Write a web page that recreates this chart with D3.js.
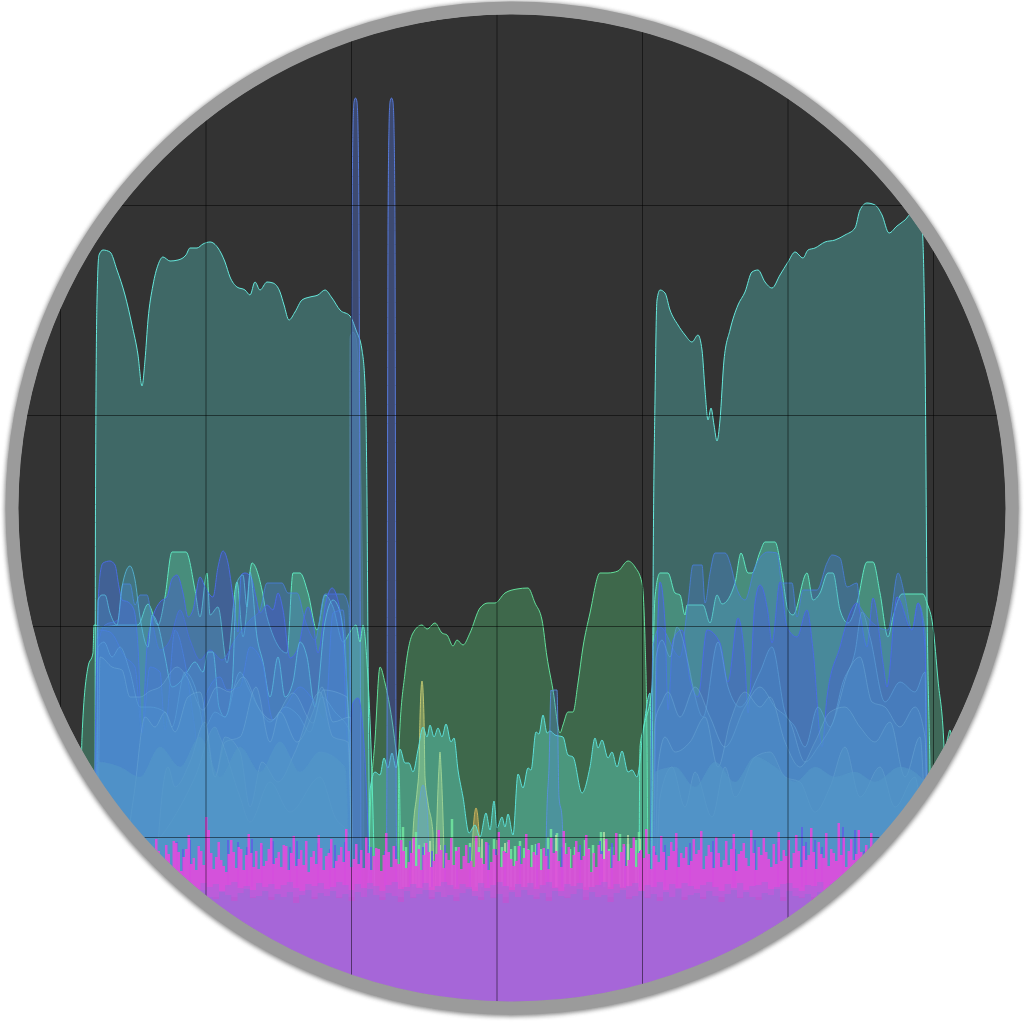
<!DOCTYPE html>
<html><head><meta charset="utf-8"><style>html,body{margin:0;background:#fff}svg{display:block}</style>
<script src="https://cdn.jsdelivr.net/npm/d3@7"></script></head><body><div id="c"></div><script>
const xTicks=[60,205.5,351,496.5,642,787.5,933];
const yTicks=[-210,0,211,422,632,843];
const tealLeft=[[95,-60],[95.5,337],[97,537],[99,582],[103,587],[110,585],[117,567],[125,542],[132,512],[138,482],[142,451],[145,477],[148,517],[153,552],[158,572],[163,580],[170,576],[178,577],[186,582],[190,589],[197,589],[203,593],[210,595],[218,589],[225,575],[230,560],[237,550],[245,547],[250,542],[255,555],[260,547],[267,555],[273,554],[280,545],[284,532],[289,517],[295,525],[302,537],[310,540],[318,542],[325,547],[332,539],[340,527],[350,521],[356,507],[362,487],[365,452],[367,337],[368,187],[370,-60]];
const tealRight=[[652,-60],[653,237],[655,437],[657,537],[660,547],[665,544],[670,527],[678,512],[685,502],[692,495],[698,502],[702,487],[705,447],[708,417],[711,429],[714,412],[717,396],[720,417],[724,477],[730,507],[738,532],[745,545],[752,565],[758,567],[765,555],[772,549],[780,562],[788,575],[795,585],[803,579],[808,587],[815,589],[825,595],[835,597],[845,602],[855,609],[860,627],[867,634],[875,632],[882,622],[889,604],[897,611],[905,617],[912,624],[922,609],[925,487],[927,237],[930,67],[932,-60]];
const greenMount=[[398,-60],[399,90],[405,164],[413,204],[422,212],[427,208],[435,214],[442,204],[447,202],[453,191],[457,197],[463,192],[470,204],[480,229],[488,234],[495,234],[505,244],[517,248],[528,249],[535,234],[542,217],[547,180],[553,147],[560,104],[563,112],[568,125],[573,125],[578,154],[583,190],[590,224],[600,264],[608,264],[618,266],[628,276],[635,270],[642,254],[645,197],[647,97],[648,-60]];
const greenPeak=[[368,-60],[370,20],[375,97],[380,170],[385,154],[392,117],[397,80],[399,67],[401,-60]];
const tealWiggle=[[368,-60],[370,47],[375,65],[380,62],[384,79],[388,69],[392,84],[396,69],[400,88],[405,74],[409,74],[413,65],[418,87],[423,110],[427,100],[430,112],[434,100],[438,109],[442,100],[446,113],[451,95],[454,99],[458,67],[463,40],[469,4],[475,12],[480,0],[486,24],[490,7],[494,36],[497,9],[502,20],[505,10],[508,23],[513,2],[518,63],[523,49],[528,69],[531,67],[536,105],[539,103],[543,122],[547,104],[550,106],[555,102],[563,100],[568,82],[573,80],[582,44],[590,70],[595,99],[598,89],[602,97],[608,79],[612,85],[617,70],[622,86],[628,65],[632,67],[637,60],[643,104],[650,144],[652,-60]];
const yellowA=[[412,-60],[413,4],[417,45],[419,70],[420,120],[422,156],[424,120],[425,60],[428,34],[433,4],[434,-60]];
const yellowB=[[435,-60],[437,20],[439,70],[440,85],[441,70],[443,20],[445,-60]];
const yellowC=[[470,-60],[473,5],[476,29],[479,5],[481,-60]];
const columnA=[[349,-60],[350,500],[353,505],[356,500],[361,360],[363,210],[364,-60]];
const spikeA=[[350,-60],[351,300],[352,600],[353,710],[354,735],[355.5,739],[357,735],[358,710],[359,600],[360,300],[361,-60]];
const spikeB=[[386,-60],[387,90],[388,600],[389,710],[390,735],[391.5,739],[393,735],[394,710],[395,600],[396,90],[397,-60]];
const spikeC=[[545,-60],[547,30],[549,70],[551,147],[552,146],[554,147],[557,147],[559,40],[562,20],[564,-60]];
const spikeD=[[416,-60],[419,30],[423,52],[427,30],[430,-60]];
const greenLeft=[[80,-60],[82,100],[88,170],[93,184],[94,212],[103,210],[120,212],[138,212],[148,233],[158,212],[165,240],[172,285],[186,285],[195,247],[200,220],[207,264],[210,222],[218,230],[227,174],[237,255],[243,200],[252,274],[262,247],[267,220],[287,184],[293,264],[300,264],[308,244],[317,207],[325,242],[333,230],[343,195],[350,205],[356,212],[360,195],[363,212],[367,174],[372,60],[375,-60]];
const stepLeft=[[97,-60],[99,197],[105,212],[118,217],[123,253],[130,253],[135,232],[140,242],[147,242],[152,217],[160,187],[170,197],[180,227],[190,197],[200,177],[210,187],[222,177],[235,197],[250,217],[260,227],[267,254],[282,254],[288,244],[297,244],[305,217],[315,197],[325,243],[343,243],[349,229],[351,-60]];
const blueLeft=[[94,-60],[95,67],[98,227],[100,262],[103,274],[110,276],[115,272],[119,250],[122,237],[128,235],[134,227],[138,190],[142,104],[147,190],[152,217],[160,235],[167,240],[172,258],[177,262],[183,244],[188,220],[193,227],[200,260],[205,250],[213,240],[218,270],[223,286],[228,274],[233,240],[238,205],[241,262],[245,264],[251,260],[256,240],[260,224],[267,232],[273,227],[278,244],[283,227],[290,179],[298,189],[308,230],[313,214],[318,184],[326,235],[332,249],[337,240],[343,197],[348,85],[353,134],[358,139],[363,107],[368,7],[370,-60]];
const blueLeft2=[[96,-60],[97,100],[99,207],[110,205],[125,180],[135,170],[142,104],[150,170],[160,165],[165,107],[175,207],[185,174],[195,107],[198,85],[203,127],[208,147],[220,160],[227,147],[240,150],[250,190],[262,175],[273,117],[285,130],[300,150],[313,137],[325,117],[333,224],[343,227],[348,90],[350,-60]];
const cyanLeft=[[97,-60],[98,237],[102,242],[105,242],[110,224],[117,212],[122,250],[130,271],[135,257],[140,220],[148,190],[152,222],[158,212],[165,180],[172,150],[180,155],[187,165],[195,175],[203,165],[208,185],[213,185],[219,130],[225,120],[232,150],[237,255],[243,262],[247,230],[250,265],[257,200],[263,175],[270,140],[278,180],[285,140],[293,155],[300,195],[307,180],[315,130],[325,215],[333,237],[340,225],[347,150],[350,60],[352,-60]];
const lightA=[[98,-60],[100,180],[112,170],[122,167],[130,140],[140,140],[150,146],[160,150],[177,170],[187,160],[203,127],[217,150],[230,145],[243,160],[260,127],[272,117],[293,144],[313,114],[323,147],[347,140],[352,-60]];
const lightB=[[96,-60],[98,190],[104,195],[112,180],[120,190],[130,165],[140,130],[150,130],[165,125],[172,110],[185,165],[195,150],[205,110],[215,125],[225,120],[240,165],[248,150],[258,130],[270,115],[285,130],[298,122],[310,105],[322,140],[335,125],[350,105],[352,-60]];
const paleA=[[125,-60],[128,-10],[135,50],[145,120],[155,110],[165,125],[175,105],[188,140],[200,145],[215,60],[225,95],[240,100],[256,150],[270,95],[280,125],[297,95],[313,125],[322,150],[333,115],[350,120],[353,-60]];
const paleB=[[155,-60],[160,20],[168,70],[175,50],[190,75],[205,115],[215,60],[225,100],[240,85],[250,30],[262,75],[278,55],[295,85],[320,145],[333,100],[348,95],[352,-60]];
const paleC=[[100,-60],[118,10],[122,-20],[150,-10],[180,30],[195,60],[215,110],[220,100],[240,40],[250,15],[270,55],[290,25],[320,60],[335,20],[350,0],[352,-60]];
const baseLeft=[[96,-60],[98,75],[120,70],[140,60],[160,90],[180,70],[200,100],[220,60],[240,90],[260,65],[280,95],[300,65],[320,85],[345,70],[350,-60]];
const greenRight=[[639,-60],[640,90],[643,107],[652,150],[655,240],[660,264],[668,264],[675,244],[680,242],[685,222],[687,232],[703,232],[710,214],[717,242],[722,233],[735,254],[741,284],[748,264],[752,264],[760,285],[765,295],[775,295],[782,264],[788,227],[793,222],[807,264],[813,237],[820,244],[828,264],[833,264],[840,227],[848,214],[857,234],[867,275],[873,275],[880,244],[888,200],[893,220],[902,243],[923,243],[927,234],[933,210],[938,157],[944,90],[948,-60]];
const stepRight=[[650,-60],[653,190],[660,210],[680,180],[688,234],[693,272],[702,272],[705,234],[710,264],[715,284],[725,284],[732,267],[735,254],[745,237],[755,270],[768,285],[777,284],[782,254],[792,254],[797,220],[803,247],[817,247],[827,274],[832,282],[840,279],[847,250],[857,254],[860,230],[888,207],[898,264],[905,240],[912,207],[918,234],[925,207],[928,-60]];
const blueRight=[[653,-60],[655,74],[660,255],[665,214],[668,127],[673,197],[682,207],[690,157],[698,140],[707,207],[720,194],[728,155],[738,219],[745,174],[748,124],[755,234],[760,252],[768,224],[772,194],[780,255],[787,210],[797,200],[807,227],[813,187],[822,90],[827,140],[840,190],[850,224],[857,234],[867,190],[873,239],[883,174],[887,150],[897,240],[912,207],[918,234],[925,190],[927,57],[930,-60]];
const lightR1=[[654,-60],[656,180],[662,197],[670,180],[677,210],[688,175],[693,150],[703,120],[718,195],[728,150],[740,130],[760,165],[772,190],[785,125],[795,110],[805,90],[818,130],[830,110],[843,155],[855,185],[862,225],[870,200],[885,135],[900,155],[915,145],[925,165],[927,-60]];
const lightR2=[[652,-60],[655,115],[662,135],[668,145],[680,120],[695,150],[710,120],[725,90],[745,130],[760,150],[775,130],[790,115],[805,75],[818,90],[835,120],[848,165],[860,180],[872,135],[885,130],[900,110],[915,130],[925,100],[928,-60]];
const paleR1=[[655,-60],[658,70],[665,100],[675,85],[690,95],[705,120],[718,70],[730,115],[745,145],[760,130],[770,140],[785,95],[800,70],[815,95],[830,125],[845,130],[860,110],[875,95],[890,115],[905,60],[920,100],[927,-60]];
const paleR2=[[656,-60],[660,40],[672,70],[685,30],[695,65],[712,20],[725,70],[735,40],[755,80],[770,85],[785,60],[800,55],[815,25],[830,50],[845,90],[860,40],[880,70],[895,30],[915,60],[926,-60]];
const baseRight=[[653,-60],[655,65],[675,70],[695,50],[715,75],[735,55],[755,80],[775,70],[795,55],[815,70],[835,60],[855,65],[875,55],[900,70],[925,55],[927,-60]];
const farRight=[[942,-60],[945,80],[948,100],[950,107],[953,92],[958,100],[962,-60]];
const magentaTop=[-16,-11,-22,-28,-2,-14,-25,-31,-8,-17,-29,-4,-6,-15,-34,-20,-12,2,-27,-21,
-33,-9,-14,-28,20,7,-16,-32,-20,-5,-23,-29,-35,-17,-3,-15,-31,-10,-12,-33,
-18,3,-16,-30,-14,-32,-6,-29,-24,-12,-1,-27,-21,-15,-30,-8,-9,-33,-16,1,
-29,-22,-13,-28,-4,-35,-20,-14,-27,2,-11,-33,-19,-16,-2,-31,-24,-18,-10,-25,
8,-14,-30,-22,-7,-27,-13,-31,0,-16,-33,-19,-11,-12,-34,-18,4,-15,-30,-9,
-22,-27,-3,-14,-31,-25,-16,0,-29,-12,-33,-18,-6,-15,-30,-24,-17,7,-13,-31,
-16,-23,-1,-28,-14,-10,-32,-19,-8,-26,-24,-30,1,-15,-21,-27,-5,-33,-25,-12,
-18,5,-30,-14,-16,-3,-22,-29,-24,-9,-27,-21,3,-13,-30,-15,-18,-6,-33,-11,
-19,-32,-1,-16,-14,-24,-30,6,-17,-10,-31,-18,-4,-15,-23,-19,2,-12,-35,-16,
-30,-8,-17,-22,-2,-14,-31,-18,4,-24,-15,-7,-29,-23,-11,0,-30,-16,-13,-21,
8,-17,-32,-9,-18,-25,1,-15,-33,-19,-5,-14,4,-30,-16,-21,-10,-28,-24,-2,
-17,-13,6,-32,-19,-8,-15,-31,0,-16,-30,-23,-4,-28,-12,3,-34,-17,-14,-6,
-21,-29,7,-16,-33,-10,-18,-1,-15,-22,-30,-7,-27,5,-24,-13,-19,-3,-31,-16,
2,-14,-30,-9,-23,-18,9,-15,-32,-5,-17,-21,4,-29,-12,-16,-24,14,-18,0,
-30,-14,-2,-23,-17,7,-15,-31,-8,-19,4,-22,-16,-4,-28,-13];
const purpleTop=[-46,-50,-48,-53,-47,-51,-45,-49,-52,-46,-50,-47,-54,-48,-45,-51,-49,-53,-46,-50,-47,-52,-48,-45,-51,-54,-47,-49,-46,-52,
-50,-45,-48,-53,-47,-51,-46,-49,-54,-48,-45,-52,-50,-47,-51,-46,-53,-49,-45,-48,-52,-47,-50,-54,-46,-51,-48,-45,-49,-53,
-47,-50,-46,-52,-48,-45,-51,-54,-47,-49,-46,-53,-50,-48,-45,-52,-47,-51,-49,-46,-54,-48,-50,-45,-53,-47,-51,-46,-49,-52,
-48,-45,-50,-54,-47,-51,-46,-53,-49,-48,-45,-52,-50,-47,-46,-51,-54,-48,-49,-45,-53,-47,-50,-46,-52,-48,-51,-45,-49,-54];
const purpleDeep=[-58,-54,-61,-56,-63,-55,-59,-65,-57,-53,-60,-62,-55,-58,-64,-56,-52,-61,-59,-54,-63,-57,-60,-55,-66,-58,-53,-62,-56,-59,
-54,-61,-57,-64,-55,-60,-52,-58,-63,-56,-59,-65,-54,-61,-57,-53,-62,-55,-60,-58,-64,-56,-52,-59,-63,-54,-61,-57,-66,-55,
-60,-53,-58,-62,-56,-64,-54,-59,-61,-57,-52,-63,-55,-60,-58,-65,-56,-53,-62,-59,-54,-61,-57,-64,-55,-60,-52,-63,-58,-56,
-62,-54,-59,-65,-57,-53,-61,-55,-60,-63,-56,-58,-52,-64,-54,-59,-61,-57,-66,-55,-60,-53,-62,-56,-58,-63,-54,-59,-61,-57];
const violetSpikes=[[177,-5],[183,-12],[190,-3],[228,-3],[238,-5],[247,-10],[252,-2],[262,-8],[273,-4],[290,-10],[297,-4],[318,-6],[330,-12],[335,-8],[345,-5],[360,-15],[371,-10],[385,-14],[396,-9],[410,-4],[423,-10],[432,-14],[445,-8],[457,-14],[470,-10],[488,-6],[496,-12],[505,-15],[520,-9],[537,-7],[548,-12],[562,-10],[580,-8],[600,-4],[602,-14],[612,-6],[625,-9],[640,-14],[655,-15],[665,-8],[677,-11],[690,-6],[713,-4],[733,-6],[735,-12],[755,-3],[778,-5],[802,10],[806,-5],[815,-3],[822,-10],[843,10],[855,7],[864,-14],[872,-8]];
const greenSpikes=[[403,10],[406,-10],[416,5],[419,-8],[425,-6],[452,18],[456,-10],[470,-6],[476,-4],[479,-10],[488,-8],[494,-2],[497,-12],[502,-10],[508,-5],[511,-12],[515,-9],[520,-4],[524,-11],[528,-12],[532,-8],[536,-7],[541,-12],[548,0],[551,8],[557,4],[565,-6],[570,-12],[575,-10],[585,-3],[589,-11],[593,-8],[601,5],[605,-4],[609,-12],[612,-10],[620,3],[624,-10],[628,-7],[636,-3],[639,5]];
const paleSpikes=[[413,-2],[430,-4],[440,-8],[482,-2],[497,-3],[505,-6],[556,2],[604,5],[628,2],[640,-2]];

const W=1024,H=1024,cx=512,cy=508,r=494;
const x=d3.scaleLinear().domain([60,933]).range([60,933]);
const y=d3.scaleLinear().domain([0,632]).range([837,205]);
const svg=d3.select('#c').append('svg').attr('width',W).attr('height',H);
const defs=svg.append('defs');
defs.append('clipPath').attr('id','clip').append('circle').attr('cx',cx).attr('cy',cy).attr('r',r);
const f=defs.append('filter').attr('id','sh').attr('x','-5%').attr('y','-5%').attr('width','110%').attr('height','110%');
f.append('feGaussianBlur').attr('stdDeviation',2);
svg.append('circle').attr('cx',cx).attr('cy',cy+1).attr('r',r+7).attr('fill','none').attr('stroke','#555').attr('stroke-width',13).attr('filter','url(#sh)').attr('opacity',.7);
svg.append('circle').attr('cx',cx).attr('cy',cy).attr('r',r).attr('fill','#333');
const g=svg.append('g').attr('clip-path','url(#clip)');
const area=d3.area().x(d=>x(d[0])).y1(d=>y(d[1])).y0(y(-60)).curve(d3.curveMonotoneX);
const line=d3.line().x(d=>x(d[0])).y(d=>y(d[1])).curve(d3.curveMonotoneX);
function layer(data,fill,fo,stroke,so,sw){
  g.append('path').attr('d',area(data)).attr('fill',fill).attr('fill-opacity',fo);
  g.append('path').attr('d',line(data)).attr('fill','none').attr('stroke',stroke).attr('stroke-opacity',so).attr('stroke-width',sw||1);
}
const TEAL='#60f6ee',GRN='#5df78c',MINT='#5ee6b0',BL='#4658dc',BL2='#4a80e0',SKY='#4a8ed0',PALE='#4f93cc',SOFT='#5397c8';
const YEL='#d8d878';
layer(tealLeft,TEAL,.28,'#66e8dc',1);
layer(tealRight,TEAL,.28,'#66e8dc',1);
layer(greenMount,GRN,.27,'#62e09a',1);
layer(greenPeak,GRN,.27,'#62e09a',1);
layer(yellowA,YEL,.4,YEL,.8);layer(yellowB,YEL,.4,YEL,.8);layer(yellowC,'#e0b050',.45,'#e0c060',.8);
layer(tealWiggle,'#60e4d0',.38,'#5ce0d8',1);
layer(columnA,'#6aa0e0',.18,'#6aa0e0',.25);
layer(spikeA,'#4f74e0',.36,'#5a80e8',.9);
layer(spikeB,'#4f74e0',.36,'#5a80e8',.9);
layer(spikeC,'#4f8ce4',.3,'#5a90e8',.8);
layer(spikeD,'#5a9ce8',.3,'#60a0e0',.7);
layer(greenLeft,MINT,.3,'#5ee8c0',1);
layer(greenRight,MINT,.3,'#5ee8c0',1);
layer(stepLeft,BL2,.3,BL2,.8);
layer(stepRight,BL2,.3,BL2,.8);
layer(blueLeft,BL,.4,'#4a6ce6',.95);
layer(blueRight,BL,.4,'#4a6ce6',.95);
layer(cyanLeft,'#4a9ad4',.25,'#58bce0',.8);
layer(blueLeft2,BL2,.22,BL2,.8);
layer(lightB,SKY,.3,'#60a8e0',.55);
layer(lightR1,SKY,.3,'#60a8e0',.55);
layer(lightA,PALE,.3,'#70b0dc',.45);
layer(lightR2,PALE,.3,'#70b0dc',.45);
layer(paleA,PALE,.35,'#7cb8dc',.35);
layer(paleR1,PALE,.35,'#7cb8dc',.35);
layer(paleB,SOFT,.4,'#7cb8dc',.28);
layer(paleR2,SOFT,.4,'#7cb8dc',.28);
layer(paleC,SOFT,.45,'#7cb8dc',.22);
layer(baseLeft,SOFT,.6,'#78b4dc',.08);
layer(baseRight,SOFT,.6,'#78b4dc',.08);
layer(farRight,MINT,.3,'#5ee8c0',1);

const nm=d3.scaleLinear().domain([0,magentaTop.length]).range([145,885]);
const np=d3.scaleLinear().domain([0,purpleTop.length]).range([145,885]);
const bar=(list,color,op,w)=>g.selectAll(null).data(list).join('rect').attr('x',d=>x(d[0])-w/2).attr('width',w).attr('y',d=>y(d[1])).attr('height',d=>y(-50)-y(d[1])).attr('fill',color).attr('fill-opacity',op);
bar(greenSpikes,'#72e8a0',.85,2.5);
bar(paleSpikes,'#b8e0a8',.8,2);
bar(violetSpikes,'#5c62e4',.85,2);
g.append('path').attr('d',d3.area().x((d,i)=>x(nm(i))).y1(d=>y(d)).y0(y(-80)).curve(d3.curveStepAfter)(magentaTop)).attr('fill','#df4cdc').attr('fill-opacity',.92);
const purpleArea=d3.area().x((d,i)=>x(np(i))).y1(d=>y(d)).y0(y(-200)).curve(d3.curveStepAfter);
g.append('path').attr('d',purpleArea(purpleTop)).attr('fill','#a666d8').attr('fill-opacity',.55);
g.append('path').attr('d',purpleArea(purpleDeep)).attr('fill','#a666d8');

const grid=g.append('g').attr('stroke','#000').attr('stroke-opacity',.5).attr('stroke-width',1);
grid.selectAll('line.v').data(xTicks).join('line').attr('class','v').attr('x1',d=>x(d)+.5).attr('x2',d=>x(d)+.5).attr('y1',0).attr('y2',H);
grid.selectAll('line.h').data(yTicks).join('line').attr('class','h').attr('y1',d=>y(d)+.5).attr('y2',d=>y(d)+.5).attr('x1',0).attr('x2',W);
svg.append('circle').attr('cx',cx).attr('cy',cy).attr('r',r+6).attr('fill','none').attr('stroke','#9b9b9b').attr('stroke-width',13);
</script></body></html>
